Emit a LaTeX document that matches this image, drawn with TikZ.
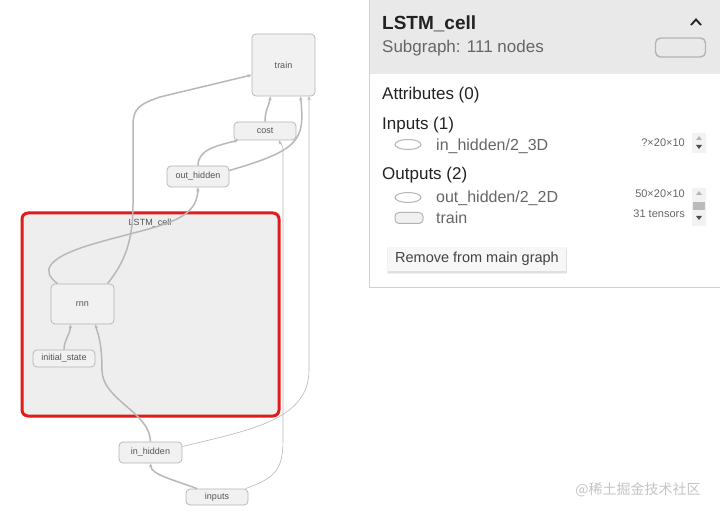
\documentclass[tikz,border=0pt]{standalone}
\usepackage{fontspec}
\setmainfont{Liberation Sans}
\newfontfamily\cjkfont{Noto Sans CJK SC}
\usetikzlibrary{arrows.meta,positioning,shapes.geometric}

\definecolor{opline}{HTML}{B4B4B4}
\definecolor{opfill}{HTML}{F1F1F1}
\definecolor{optext}{HTML}{555555}
\definecolor{flowgray}{HTML}{B8B8B8}
\definecolor{cellred}{HTML}{E01B1B}
\definecolor{cellfill}{HTML}{EEEEEE}
\definecolor{headgray}{HTML}{E9E9E9}
\definecolor{panelline}{HTML}{CFCFCF}
\definecolor{titletext}{HTML}{222222}
\definecolor{subtext}{HTML}{666666}
\definecolor{wmgray}{HTML}{C4C4C4}

\begin{document}
\begin{tikzpicture}[x=1pt,y=-1pt,>={Stealth[length=4pt,width=3.5pt]}]
\tikzstyle{op}=[draw=opline,fill=opfill,rounded corners=4pt,line width=0.7pt,text=optext,font=\fontsize{9}{10}\selectfont,inner sep=0pt]
\tikzstyle{flow}=[->,draw=flowgray,line width=1.5pt]
\tikzstyle{thinflow}=[->,draw=flowgray,line width=0.6pt]
\tikzstyle{info}=[anchor=base west,inner sep=0pt,text=titletext]
\tikzstyle{shapetext}=[anchor=base east,inner sep=0pt,text=subtext,font=\fontsize{11}{12}\selectfont]
\tikzstyle{keyoval}=[ellipse,draw=opline,line width=1pt,minimum width=26pt,minimum height=10pt,inner sep=0pt]

\useasboundingbox (0,0) rectangle (720,513);
\fill[white] (0,0) rectangle (720,513);

% subgraph box
\node[draw=cellred,line width=3pt,fill=cellfill,rounded corners=6pt,minimum width=257pt,minimum height=203pt,inner sep=0pt] (cell) at (150.5,314.5) {};
\node[text=optext,font=\fontsize{9}{10}\selectfont,inner sep=0pt] (celllabel) at (150,223) {LSTM\_cell};

\node[op,minimum width=63pt,minimum height=62pt] (train)     at (283.5,65)  {train};
\node[op,minimum width=62pt,minimum height=18pt] (cost)      at (265,131)   {cost};
\node[op,minimum width=62pt,minimum height=21pt] (outhidden) at (198,176.5) {out\_hidden};
\node[op,minimum width=63pt,minimum height=40pt] (rnn)       at (82.5,304)  {rnn};
\node[op,minimum width=62pt,minimum height=17pt] (initstate) at (64,358.5)  {initial\_state};
\node[op,minimum width=63pt,minimum height=21pt] (inhidden)  at (150.5,452.5) {in\_hidden};
\node[op,minimum width=62pt,minimum height=16pt] (inputs)    at (217,497)   {inputs};

\draw[flow] ([xshift=-25pt]rnn.north) .. controls (42,272) and (42,258) .. (100,242)
  .. controls (160,225) and (197,222) .. (outhidden.south);
\draw[flow] ([xshift=25pt]rnn.north) .. controls (125,262) and (133,240) .. (133,205) -- (133,125)
  .. controls (133,108) and (140,104) .. (160,97) -- ([yshift=-10pt]train.west);
\draw[flow] (outhidden.north) .. controls (198,150) and (215,146) .. ([xshift=-27pt]cost.south);
\draw[flow] (cost.north) .. controls (265,110) and (269,106) .. ([xshift=-13pt]train.south);
\draw[flow] ([yshift=6pt]outhidden.east) .. controls (300,150) and (305,140) .. ([xshift=17pt]train.south);
\draw[thinflow] ([yshift=6pt]inhidden.east) .. controls (250,430) and (309,420) .. (309,370) -- ([xshift=25.5pt]train.south);
\draw[thinflow] ([xshift=-3pt]inputs.north east) .. controls (275,478) and (283,470) .. (283,440) -- (283,150)
  .. controls (283,145) and (280,143) .. ([xshift=14pt]cost.south);
\draw[flow] (initstate.north) .. controls (64,340) and (70,335) .. ([xshift=-12pt]rnn.south);
\draw[flow] (inhidden.north) .. controls (150,412) and (102,400) .. (102,370)
  .. controls (102,340) and (97,332) .. ([xshift=13pt]rnn.south);
\draw[flow] ([xshift=-20pt]inputs.north) .. controls (175,480) and (151,475) .. (inhidden.south);

% info panel
\fill[white] (369,0) rectangle (720,287);
\fill[headgray] (369,0) rectangle (720,74);
\draw[panelline,line width=1pt] (369,0) -- (369,287) -- (720,287);
\node[info,font=\bfseries\fontsize{19}{20}\selectfont] (title) at (382,30) {LSTM\_cell};
\node[info,text=subtext,font=\fontsize{17}{18}\selectfont] (subtitle) at (382,53) {Subgraph: 111 nodes};
\draw[titletext,line width=1.8pt] (691,25) -- (696,19.5) -- (701,25);
\node[draw=opline,line width=1.4pt,rounded corners=5pt,minimum width=50pt,minimum height=19pt,inner sep=0pt] (keybox) at (680.5,47.5) {};

\node[info,font=\fontsize{17}{18}\selectfont] (attrs) at (382,100) {Attributes (0)};
\node[info,font=\fontsize{17}{18}\selectfont] (ins) at (382,130) {Inputs (1)};
\node[keyoval] (inkey) at (408,144.5) {};
\node[info,text=subtext,font=\fontsize{16}{17}\selectfont] (inname) at (436,151) {in\_hidden/2\_3D};
\node[shapetext] (inshape) at (685,146.5) {?×20×10};
\node[info,font=\fontsize{17}{18}\selectfont] (outs) at (382,180) {Outputs (2)};
\node[keyoval] (outkey) at (408,197.5) {};
\node[info,text=subtext,font=\fontsize{16}{17}\selectfont] (outname) at (436,203) {out\_hidden/2\_2D};
\node[shapetext] (outshape) at (685,198) {50×20×10};
\node[draw=opline,fill=opfill,line width=1pt,rounded corners=4pt,minimum width=28pt,minimum height=11pt,inner sep=0pt] (trainkey) at (409,218) {};
\node[info,text=subtext,font=\fontsize{16}{17}\selectfont] (trainname) at (436,223) {train};
\node[shapetext] (trainshape) at (685,218) {31 tensors};

% scroll arrows
\fill[headgray!60] (692,133) rectangle (706,153);
\fill[opline] (696,140) -- (699,136) -- (702,140) -- cycle;
\fill[titletext!80] (696,145) -- (699,149) -- (702,145) -- cycle;
\fill[headgray!60] (692,188) rectangle (706,226);
\fill[opline] (696,195) -- (699,191) -- (702,195) -- cycle;
\fill[opline!90] (693,202) rectangle (705,210);
\fill[titletext!80] (696,216) -- (699,220) -- (702,216) -- cycle;

% button
\fill[black!6] (387,247) rectangle (567,274);
\fill[black!12] (388,249) rectangle (567,273);
\node[fill=headgray!35,minimum width=178pt,minimum height=24pt,inner sep=0pt,text=titletext!85,font=\fontsize{14.5}{16}\selectfont] (remove) at (477,258.5) {Remove from main graph};

\node[text=wmgray,font=\cjkfont\fontsize{14}{15}\selectfont,inner sep=0pt] (mark) at (638,490) {@稀土掘金技术社区};
\end{tikzpicture}
\end{document}
